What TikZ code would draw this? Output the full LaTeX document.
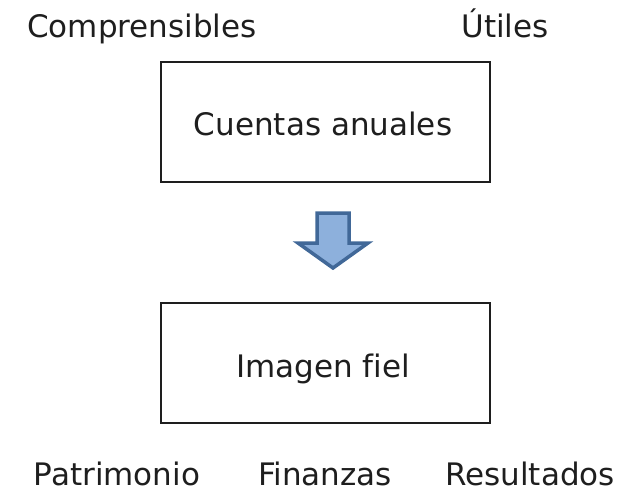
\documentclass[tikz,border=0pt]{standalone}
\usepackage{fontspec}
\setmainfont[Ligatures=NoCommon]{DejaVu Sans}
\usepackage{tikz}
\usetikzlibrary{positioning}
\definecolor{shaftblue}{RGB}{141, 176, 220}
\definecolor{edgeblue}{RGB}{65, 104, 152}
\definecolor{inkgray}{RGB}{30, 30, 30}
\tikzset{
  label/.style={text=inkgray, font=\fontsize{31}{36}\selectfont, inner sep=0pt, anchor=base},
  box/.style={draw=inkgray, line width=2.6pt}
}

\begin{document}
\begin{tikzpicture}[x=1pt, y=-1pt]
            \useasboundingbox (0, 0) rectangle (636, 492);
            \node[label] (compr)   at (142, 38) {Comprensibles};
            \node[label] (utiles)  at (505, 38) {Útiles};
            \draw[box] (161, 62) rectangle (490, 182);
            \node[label] (cuentas) at (323, 135) {Cuentas anuales};
            \filldraw[edgeblue, fill=shaftblue, line width=3.5pt, line join=miter]
                 (317, 213) -- (349, 213) -- (349, 243) -- (368, 243) -- (333, 268)
                 -- (298, 243) -- (317, 243) -- cycle;
            \draw[box] (161, 303) rectangle (490, 423);
            \node[label] (imagen)  at (323, 377) {Imagen fiel};
            \node[label] (patrim)  at (117, 485) {Patrimonio};
            \node[label] (finanz)  at (325, 485) {Finanzas};
            \node[label] (result)  at (530, 485) {Resultados};
        \end{tikzpicture}
\end{document}
